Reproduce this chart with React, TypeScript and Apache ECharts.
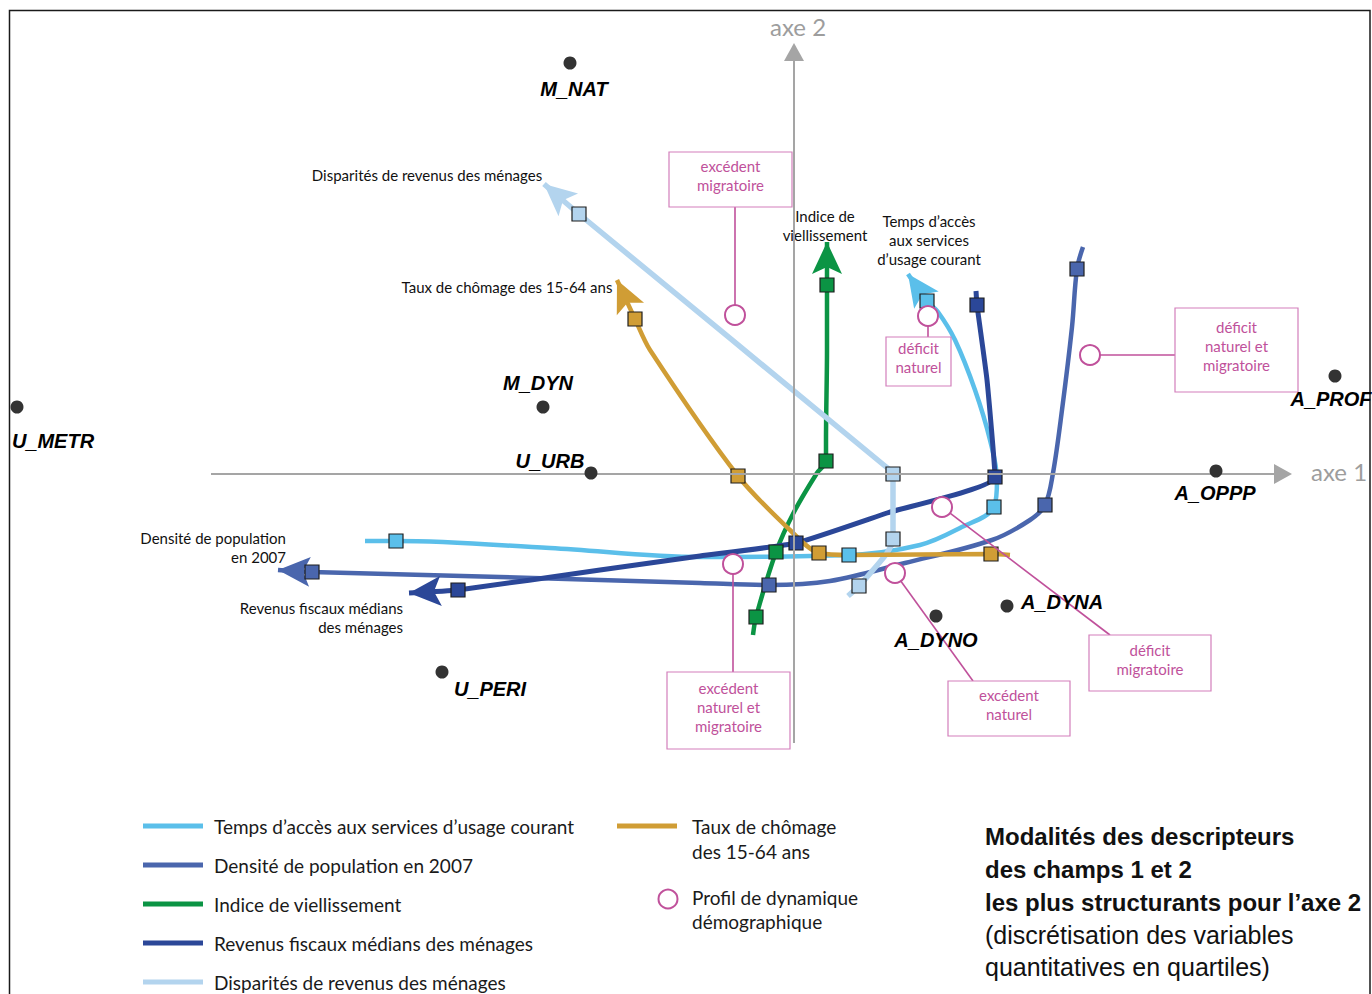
import { useEffect, useRef } from 'react';
import * as echarts from 'echarts';

// ---- factor plane extent (axis 1 horizontal, axis 2 vertical) ----
const X_MIN = -7.94;
const X_MAX = 5.78;
const Y_MIN = -5.2;
const Y_MAX = 4.74;
const AXIS1_RANGE = [-5.83, 4.89];
const AXIS2_RANGE = [-2.69, 4.22];

// ---- modalités (black dots) ----
const modaliteNames = ['M_NAT', 'M_DYN', 'U_METR', 'U_URB', 'A_PROF', 'A_OPPP', 'A_DYNA', 'A_DYNO', 'U_PERI'];
const modaliteX = [-2.24, -2.51, -7.77, -2.03, 5.41, 4.22, 2.13, 1.42, -3.52];
const modaliteY = [4.11, 0.67, 0.67, 0.01, 0.98, 0.03, -1.32, -1.42, -1.98];

// ---- descriptors: curves (ending at arrow tip) and quartile squares ----
const legendNames = [
  'Temps d’accès aux services d’usage courant',
  'Densité de population en 2007',
  'Indice de viellissement',
  'Revenus fiscaux médians des ménages',
  'Disparités de revenus des ménages',
  'Taux de chômage des 15-64 ans',
];
const chartLabels = [
  'Temps d’accès\naux services\nd’usage courant',
  'Densité de population\nen 2007',
  'Indice de\nviellissement',
  'Revenus fiscaux médians\ndes ménages',
  'Disparités de revenus des ménages',
  'Taux de chômage des 15-64 ans',
];

const tempsCurve = [[-4.29, -0.67], [-3.98, -0.67], [-2.44, -0.74], [-0.94, -0.83], [0.55, -0.81], [1.26, -0.71], [1.66, -0.54], [2.0, -0.33], [2.03, -0.06], [1.96, 0.34], [1.81, 0.84], [1.61, 1.34], [1.44, 1.62], [1.33, 1.73], [1.14, 2.0]];
const tempsSquares = [[-3.98, -0.67], [0.55, -0.81], [2.0, -0.33], [1.33, 1.73]];

const densiteCurve = [[2.89, 2.27], [2.83, 2.05], [2.78, 1.47], [2.68, 0.64], [2.59, 0.01], [2.51, -0.31], [2.36, -0.46], [1.98, -0.66], [1.11, -0.89], [0.36, -1.07], [-0.25, -1.11], [-0.94, -1.09], [-2.94, -1.03], [-4.82, -0.98], [-5.16, -0.96]];
const densiteSquares = [[2.83, 2.05], [2.51, -0.31], [-0.25, -1.11], [-4.82, -0.98]];

const vieillissementCurve = [[-0.41, -1.61], [-0.38, -1.43], [-0.18, -0.78], [0.0, -0.38], [0.23, 0.01], [0.32, 0.13], [0.32, 0.34], [0.33, 1.24], [0.33, 1.89], [0.33, 2.32]];
const vieillissementSquares = [[-0.38, -1.43], [-0.18, -0.78], [0.32, 0.13], [0.33, 1.89]];

const revenusCurve = [[1.82, 1.83], [1.83, 1.69], [1.93, 0.94], [2.01, -0.03], [0.93, -0.39], [0.02, -0.69], [-0.94, -0.82], [-1.94, -0.96], [-3.36, -1.16], [-3.85, -1.19]];
const revenusSquares = [[1.83, 1.69], [2.01, -0.03], [0.02, -0.69], [-3.36, -1.16]];

const disparitesCurve = [[0.54, -1.22], [0.65, -1.12], [0.79, -0.96], [0.93, -0.79], [0.99, -0.65], [0.99, -0.26], [0.99, 0.0], [0.91, 0.08], [-2.15, 2.6], [-2.5, 2.9]];
const disparitesSquares = [[0.65, -1.12], [0.99, -0.65], [0.99, 0.0], [-2.15, 2.6]];

const chomageCurve = [[2.16, -0.81], [1.97, -0.8], [0.56, -0.81], [0.25, -0.79], [-0.04, -0.56], [-0.56, -0.02], [-1.44, 1.24], [-1.59, 1.55], [-1.77, 1.94]];
const chomageSquares = [[1.97, -0.8], [0.25, -0.79], [-0.56, -0.02], [-1.59, 1.55]];

const curves = [tempsCurve, densiteCurve, vieillissementCurve, revenusCurve, disparitesCurve, chomageCurve];
const squares = [tempsSquares, densiteSquares, vieillissementSquares, revenusSquares, disparitesSquares, chomageSquares];

// ---- profils de dynamique démographique ----
const profilLabels = ['excédent\nmigratoire', 'déficit\nnaturel', 'déficit\nnaturel et\nmigratoire', 'excédent\nnaturel et\nmigratoire', 'excédent\nnaturel', 'déficit\nmigratoire'];
const profilX = [-0.59, 1.34, 2.96, -0.61, 1.01, 1.48];
const profilY = [1.59, 1.58, 1.19, -0.9, -0.99, -0.33];

// ---- layout / styles ----
const COLORS = ['#5bbfea', '#4a66ad', '#0b9444', '#2b4798', '#b3d4ee', '#d09d35'];
const WIDTHS = [4.5, 4.5, 4.5, 5, 5.5, 4.5];
const SMOOTH = [0.35, 0.35, 0.3, 0.15, 0.25, 0.3];
const ARROW_LABEL_OFFSET = [[21, -34], [8, -22.5], [-2, -17], [-6, 24.5], [-117, -9], [-110, 7]];
const ARROW_LABEL_ALIGN = ['center', 'right', 'center', 'right', 'center', 'center'];
const MOD_LABEL_OFFSET = [[4, 26], [-5, -24], [36, 34], [-41, -12], [-4, 23], [-1, 22], [55, -4], [0, 24], [48, 17]];
const BOX_RECTS = [[-1.25, 3.22, -0.02, 2.67], [0.92, 1.37, 1.57, 0.88], [3.81, 1.66, 5.04, 0.82], [-1.27, -1.98, -0.04, -2.75], [1.54, -2.07, 2.76, -2.62], [2.95, -1.61, 4.17, -2.17]];
const BOX_ATTACH = [[-0.59, 2.67], [1.34, 1.37], [3.81, 1.19], [-0.61, -1.98], [1.79, -2.07], [3.16, -1.61]];
const MAGENTA = '#c0519b';
const FONT_HUMANIST = 'Lato, "Open Sans", sans-serif';
const FONT_HELV = '"Liberation Sans", Arial, sans-serif';
const PX_PER_UNIT = 100;
const ARROW_LEN = 32;
const ARROW_W = 30;
const ARROW_PATH = 'path://M15,0L30,32L15,25L0,32Z';

function buildOption() {
  const series: any[] = [];

  // factor axes
  series.push({
    type: 'scatter',
    name: 'axes',
    data: [],
    z: 1,
    silent: true,
    markLine: {
      silent: true,
      symbol: ['none', 'triangle'],
      symbolSize: [20, 18],
      label: { show: false },
      lineStyle: { color: '#a5a5a5', width: 2, type: 'solid' },
      data: [
        [{ coord: [AXIS1_RANGE[0], 0] }, { coord: [AXIS1_RANGE[1], 0] }],
        [{ coord: [0, AXIS2_RANGE[0]] }, { coord: [0, AXIS2_RANGE[1]] }],
      ],
    },
  });

  curves.forEach((curve, i) => {
    series.push({
      type: 'line',
      name: legendNames[i],
      data: curve,
      smooth: SMOOTH[i],
      showSymbol: false,
      symbol: 'none',
      lineStyle: { color: COLORS[i], width: WIDTHS[i] },
      itemStyle: { color: COLORS[i] },
      z: 2,
      silent: true,
    });
  });

  curves.forEach((curve, i) => {
    const tip = curve[curve.length - 1];
    const prev = curve[curve.length - 2];
    const dx = tip[0] - prev[0];
    const dy = tip[1] - prev[1];
    const len = Math.sqrt(dx * dx + dy * dy);
    const ux = dx / len;
    const uy = dy / len;
    const half = ARROW_LEN / 2;
    const center = [tip[0] - (ux * half) / PX_PER_UNIT, tip[1] - (uy * half) / PX_PER_UNIT];
    const rot = (Math.atan2(uy, ux) * 180) / Math.PI - 90;
    const off = ARROW_LABEL_OFFSET[i];
    series.push({
      type: 'scatter',
      name: legendNames[i],
      data: [{
        value: center,
        label: {
          show: true,
          position: 'inside',
          formatter: chartLabels[i],
          offset: [off[0] + ux * half, off[1] - uy * half],
          align: ARROW_LABEL_ALIGN[i],
          verticalAlign: 'middle',
          color: '#111',
          fontSize: 15,
          lineHeight: 19,
          fontFamily: FONT_HUMANIST,
        },
      }],
      symbol: ARROW_PATH,
      symbolSize: [ARROW_W, ARROW_LEN],
      symbolRotate: rot,
      itemStyle: { color: COLORS[i], opacity: 1 },
      z: 3,
      silent: true,
    });
  });

  squares.forEach((sq, i) => {
    series.push({
      type: 'scatter',
      name: legendNames[i],
      data: sq,
      symbol: 'rect',
      symbolSize: 14,
      itemStyle: { color: COLORS[i], borderColor: '#1e1e1e', borderWidth: 1.2, opacity: 1 },
      z: 4,
      silent: true,
    });
  });

  // boxes + connectors of profiles
  series.push({
    type: 'custom',
    name: 'profil-boxes',
    data: profilX.map((x, i) => [x, profilY[i], i]),
    encode: { x: 0, y: 1 },
    z: 5,
    silent: true,
    renderItem: (params: any, api: any) => {
      const idx = api.value(2);
      const c = api.coord([api.value(0), api.value(1)]);
      const r = BOX_RECTS[idx];
      const p0 = api.coord([r[0], r[1]]);
      const p1 = api.coord([r[2], r[3]]);
      const a = api.coord(BOX_ATTACH[idx]);
      return {
        type: 'group',
        children: [
          { type: 'line', shape: { x1: c[0], y1: c[1], x2: a[0], y2: a[1] }, style: { stroke: MAGENTA, lineWidth: 1.6 } },
          { type: 'rect', shape: { x: p0[0], y: p0[1], width: p1[0] - p0[0], height: p1[1] - p0[1] }, style: { fill: '#fff', stroke: '#d37fbb', lineWidth: 1.2 } },
          {
            type: 'text',
            x: (p0[0] + p1[0]) / 2,
            y: (p0[1] + p1[1]) / 2 - 4,
            style: { text: profilLabels[idx], fill: MAGENTA, fontSize: 15, fontFamily: FONT_HUMANIST, align: 'center', verticalAlign: 'middle', lineHeight: 19 },
          },
        ],
      };
    },
  });

  series.push({
    type: 'scatter',
    name: 'Profil de dynamique démographique',
    data: profilX.map((x, i) => [x, profilY[i]]),
    symbol: 'circle',
    symbolSize: 20,
    itemStyle: { color: '#fff', borderColor: MAGENTA, borderWidth: 2, opacity: 1 },
    z: 6,
    silent: true,
  });

  series.push({
    type: 'scatter',
    name: 'modalités',
    data: modaliteX.map((x, i) => ({
      value: [x, modaliteY[i]],
      name: modaliteNames[i],
      label: { offset: MOD_LABEL_OFFSET[i] },
    })),
    symbol: 'circle',
    symbolSize: 13,
    itemStyle: { color: '#333333', opacity: 1 },
    label: {
      show: true,
      position: 'inside',
      formatter: '{b}',
      color: '#000',
      fontSize: 20,
      fontWeight: 'bold',
      fontStyle: 'italic',
      fontFamily: FONT_HELV,
    },
    z: 7,
    silent: true,
  });

  // legend + title drawn as graphic elements
  const graphic: any[] = [];
  graphic.push({ type: 'rect', shape: { x: 9.5, y: 10.5, width: 1360.5, height: 1000 }, style: { fill: 'none', stroke: '#1a1a1a', lineWidth: 1.5 }, z: 0, silent: true });
  graphic.push({ type: 'text', x: 798, y: 26, style: { text: 'axe 2', fill: '#9d9d9d', fontSize: 24, fontFamily: FONT_HUMANIST, align: 'center', verticalAlign: 'middle' } });
  graphic.push({ type: 'text', x: 1339, y: 471, style: { text: 'axe 1', fill: '#9d9d9d', fontSize: 24, fontFamily: FONT_HUMANIST, align: 'center', verticalAlign: 'middle' } });

  for (let i = 0; i < 5; i++) {
    const y = 826 + i * 39;
    graphic.push({ type: 'rect', shape: { x: 143, y: y - 2.5, width: 60, height: 5 }, style: { fill: COLORS[i] } });
    graphic.push({ type: 'text', x: 214, y, style: { text: legendNames[i], fill: '#1a1a1a', fontSize: 19, fontFamily: FONT_HUMANIST, verticalAlign: 'middle' } });
  }
  graphic.push({ type: 'rect', shape: { x: 617, y: 826 - 2.5, width: 60, height: 5 }, style: { fill: COLORS[5] } });
  graphic.push({ type: 'text', x: 692, y: 814, style: { text: 'Taux de chômage\ndes 15-64 ans', fill: '#1a1a1a', fontSize: 19, lineHeight: 25, fontFamily: FONT_HUMANIST, verticalAlign: 'top' } });
  graphic.push({ type: 'circle', shape: { cx: 668, cy: 899, r: 9.5 }, style: { fill: 'none', stroke: MAGENTA, lineWidth: 2 } });
  graphic.push({ type: 'text', x: 692, y: 885, style: { text: 'Profil de dynamique\ndémographique', fill: '#1a1a1a', fontSize: 19, lineHeight: 24, fontFamily: FONT_HUMANIST, verticalAlign: 'top' } });

  graphic.push({ type: 'text', x: 985, y: 820, style: { text: 'Modalités des descripteurs\ndes champs 1 et 2\nles plus structurants pour l’axe 2', fill: '#111', fontSize: 24, fontWeight: 'bold', lineHeight: 33, fontFamily: FONT_HELV, verticalAlign: 'top' } });
  graphic.push({ type: 'text', x: 985, y: 919, style: { text: '(discrétisation des variables\nquantitatives en quartiles)', fill: '#111', fontSize: 25, lineHeight: 32, fontFamily: FONT_HELV, verticalAlign: 'top' } });

  return {
    animation: false,
    backgroundColor: '#ffffff',
    grid: { left: 0, right: 0, top: 0, bottom: 0, containLabel: false },
    xAxis: { type: 'value', min: X_MIN, max: X_MAX, show: false },
    yAxis: { type: 'value', min: Y_MIN, max: Y_MAX, show: false },
    series,
    graphic,
  };
}

export default function App() {
  const ref = useRef<HTMLDivElement>(null);
  useEffect(() => {
    if (!ref.current) return;
    const chart = echarts.init(ref.current, null, { renderer: 'svg' });
    chart.setOption(buildOption() as any);
    return () => chart.dispose();
  }, []);
  return <div ref={ref} style={{ position: 'absolute', left: 0, top: 0, width: 1372, height: 994, background: '#fff' }} />;
}
